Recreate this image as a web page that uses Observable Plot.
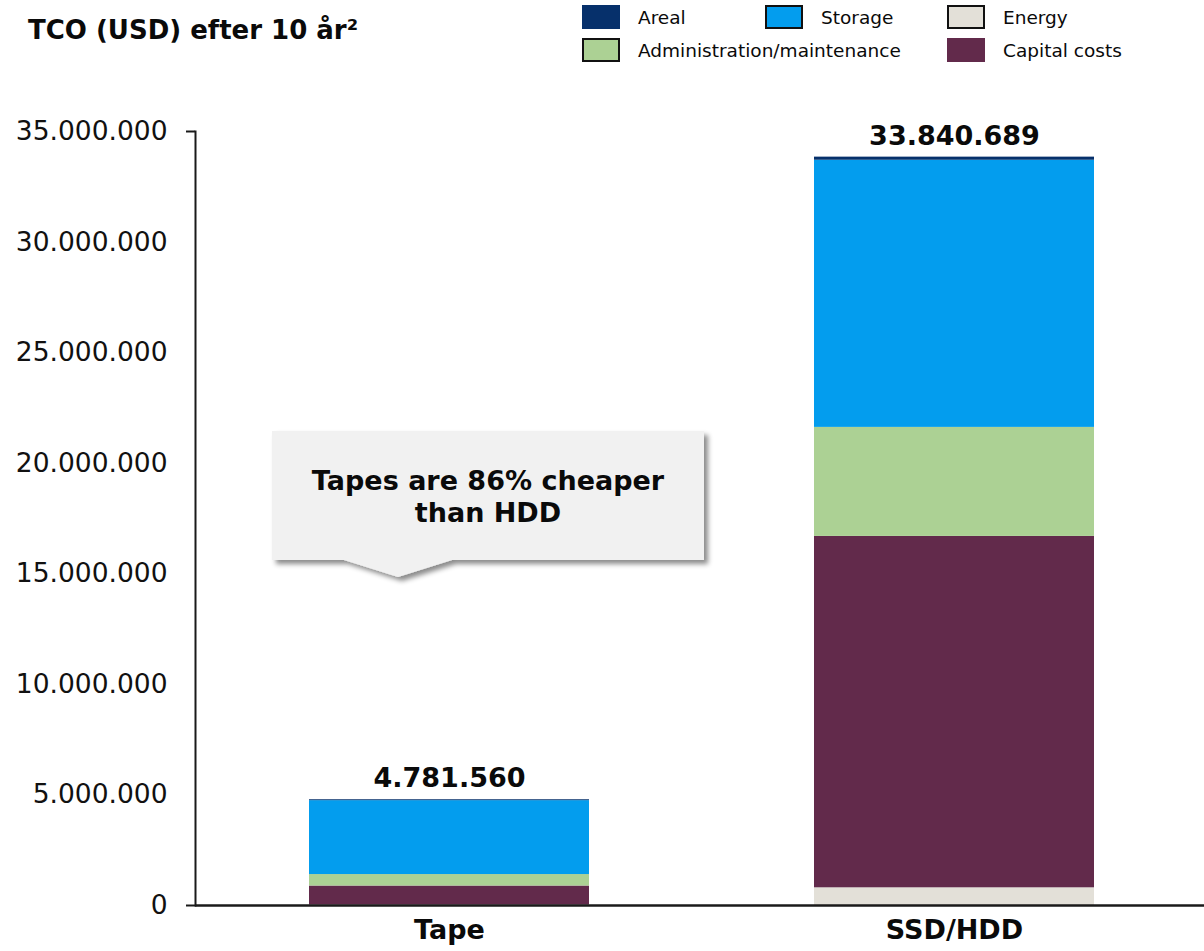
<!DOCTYPE html>
<html>
<head>
<meta charset="utf-8">
<script src="https://cdn.jsdelivr.net/npm/d3@7"></script>
<script src="https://cdn.jsdelivr.net/npm/@observablehq/plot@0.6"></script>
<style>
  html, body { margin: 0; padding: 0; background: #fff; }
  body { font-family: "DejaVu Sans", Verdana, sans-serif; color: #111; }
  #wrap { position: relative; width: 1204px; height: 951px; overflow: hidden; }
  #chart { position: absolute; left: 0; top: 0; }
  #title { position: absolute; left: 28px; top: 15px; font-weight: bold; font-size: 26px; white-space: nowrap; color: #0a0a0a; }
  .lg { position: absolute; font-size: 18.5px; white-space: nowrap; display: flex; align-items: center; height: 24px; color: #0a0a0a; }
  .sw { width: 38px; height: 24px; box-sizing: border-box; margin-right: 18px; }
  #callout { position: absolute; left: 0; top: 0; pointer-events: none; }
</style>
</head>
<body>
<div id="wrap">
  <div id="chart"></div>
  <div id="title">TCO (USD) efter 10 år²</div>
  <div id="legend"></div>
  <svg id="callout" width="1204" height="951">
    <defs>
      <filter id="sh" x="-10%" y="-10%" width="130%" height="140%">
        <feDropShadow dx="4" dy="4" stdDeviation="2.5" flood-color="#000" flood-opacity="0.45"/>
      </filter>
    </defs>
    <path d="M272,431 L704,431 L704,560 L452,560 L398,577 L344,560 L272,560 Z" fill="#f1f1f1" filter="url(#sh)"/>
    <text x="488" y="490" text-anchor="middle" font-family="DejaVu Sans, sans-serif" font-weight="bold" font-size="27" fill="#0a0a0a">Tapes are 86% cheaper</text>
    <text x="488" y="522" text-anchor="middle" font-family="DejaVu Sans, sans-serif" font-weight="bold" font-size="27" fill="#0a0a0a">than HDD</text>
  </svg>
</div>
<script>
// ---- data ----
const categories = ["Tape", "SSD/HDD"];
const seriesNames = ["Energy", "Capital costs", "Administration/maintenance", "Storage", "Areal"];
const energy  = [20000, 800000];
const capital = [860000, 15890000];
const admin   = [520000, 4930000];
const storage = [3341560, 12080689];
const areal   = [40000, 140000];
const totals  = [4781560, 33840689];
const yTicks  = [0, 5000000, 10000000, 15000000, 20000000, 25000000, 30000000, 35000000];

const colors = {
  "Areal": "#06306b",
  "Storage": "#039dee",
  "Energy": "#e3e0d8",
  "Administration/maintenance": "#acd194",
  "Capital costs": "#622a4b"
};
const legendItems = [
  {name: "Areal", x: 582, y: 5, border: false},
  {name: "Storage", x: 765, y: 5, border: true},
  {name: "Energy", x: 947, y: 5, border: true},
  {name: "Administration/maintenance", x: 582, y: 38, border: true},
  {name: "Capital costs", x: 947, y: 38, border: false}
];

const seriesValues = {
  "Energy": energy, "Capital costs": capital,
  "Administration/maintenance": admin, "Storage": storage, "Areal": areal
};
const rows = [];
for (const s of seriesNames) {
  categories.forEach((c, i) => rows.push({category: c, series: s, value: seriesValues[s][i]}));
}
const totalRows = categories.map((c, i) => ({category: c, total: totals[i]}));

const loc = d3.formatLocale({decimal: ",", thousands: ".", grouping: [3], currency: ["", ""]});
const fmt = loc.format(",d");

const chart = Plot.plot({
  width: 1204,
  height: 951,
  marginTop: 131,
  marginBottom: 46,
  marginLeft: 195,
  marginRight: 0,
  style: {fontFamily: "DejaVu Sans, sans-serif", color: "#0a0a0a", background: "transparent"},
  x: {domain: categories, paddingInner: 0.445, paddingOuter: 0.22, align: 0.51, label: null},
  y: {domain: [0, 35000000], label: null},
  color: {domain: Object.keys(colors), range: Object.values(colors)},
  marks: [
    Plot.barY(rows, Plot.stackY({
      x: "category", y: "value", fill: "series",
      order: seriesNames
    })),
    Plot.frame({anchor: "left", stroke: "#1a1a1a", strokeWidth: 2}),
    Plot.ruleY([0], {stroke: "#1a1a1a", strokeWidth: 2.5}),
    Plot.axisY({ticks: yTicks, tickSize: 0, tickPadding: 28, tickFormat: fmt, fontSize: 26.5, fill: "#111"}),
    Plot.axisY({ticks: [0, 35000000], tickSize: 9, tickFormat: () => "", stroke: "#1a1a1a", strokeWidth: 2}),
    Plot.axisX({tickSize: 0, tickPadding: 14, fontSize: 27, fontWeight: "bold", fill: "#0a0a0a"}),
    Plot.text(totalRows, {x: "category", y: "total", text: d => fmt(d.total), dy: -21, fontSize: 27, fontWeight: "bold", fill: "#0a0a0a"})
  ]
});
document.getElementById("chart").appendChild(chart);

const lg = document.getElementById("legend");
for (const it of legendItems) {
  const d = document.createElement("div");
  d.className = "lg";
  d.style.left = it.x + "px";
  d.style.top = it.y + "px";
  const sw = document.createElement("div");
  sw.className = "sw";
  sw.style.background = colors[it.name];
  if (it.border) sw.style.border = "2px solid #111";
  d.appendChild(sw);
  const t = document.createElement("span");
  t.textContent = it.name;
  d.appendChild(t);
  lg.appendChild(d);
}
</script>
</body>
</html>
